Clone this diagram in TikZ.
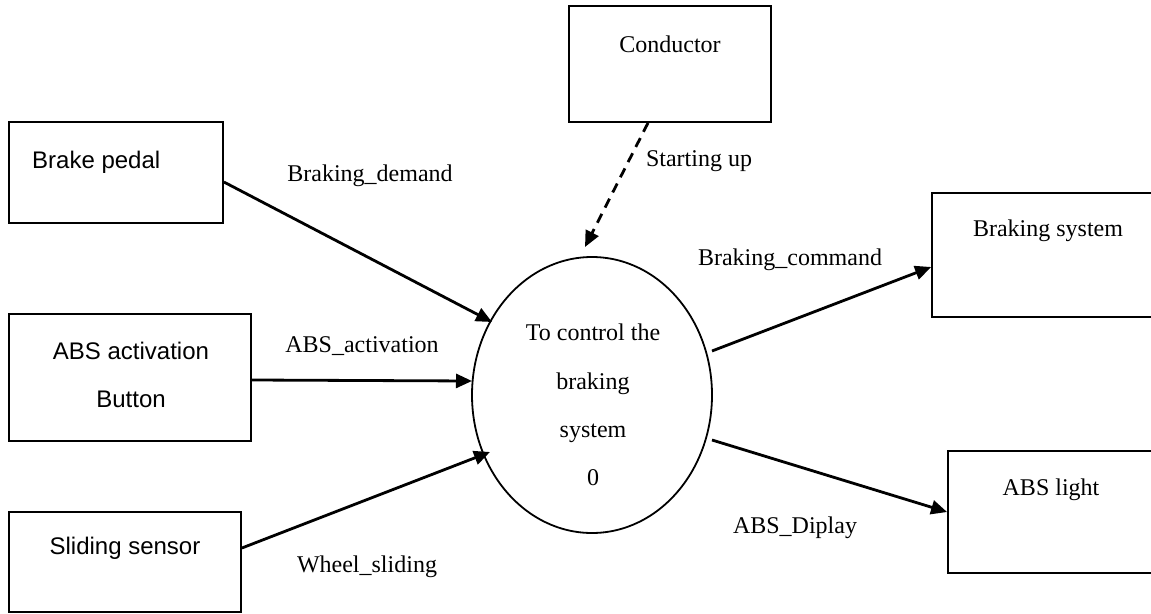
\documentclass[tikz,border=0pt]{standalone}
\usepackage{fontspec}
\setmainfont{Liberation Serif}
\newfontfamily\arialfont{Liberation Sans}
\usetikzlibrary{arrows.meta,shapes.geometric}
\begin{document}
\begin{tikzpicture}[x=1pt,y=-1pt,
  extbox/.style={draw,rectangle,line width=1.8pt,inner sep=0pt},
  procbubble/.style={draw,ellipse,line width=1.8pt,inner sep=0pt,
    minimum width=240pt,minimum height=276pt},
  flow/.style={line width=2.8pt,-{Triangle[length=16pt,width=14pt]}},
  ctrlflow/.style={flow,dash pattern=on 10pt off 7pt},
  serif/.style={font=\fontsize{24}{29}\selectfont,anchor=base,inner sep=0pt},
  sans/.style={font=\arialfont\fontsize{24}{29}\selectfont,anchor=base,inner sep=0pt}]

\useasboundingbox (0,0) rectangle (1151,613);
\clip (0,0) rectangle (1151,613);
\fill[white] (0,0) rectangle (1151,613);

% external entities
\node[extbox,minimum width=214pt,minimum height=101pt] (pedal) at (116,172.5) {};
\node[extbox,minimum width=242pt,minimum height=127pt] (absbtn) at (130,377.5) {};
\node[extbox,minimum width=232pt,minimum height=100pt] (sensor) at (125,562) {};
\node[extbox,minimum width=202pt,minimum height=116pt] (driver) at (670,64) {};
\node[extbox,minimum width=238pt,minimum height=124pt] (brakes) at (1051,255) {};
\node[extbox,minimum width=217pt,minimum height=122pt] (light) at (1056.5,512) {};

% the process
\node[procbubble] (proc) at (592,395) {};

% data flows
\draw[flow] ([yshift=-9.5pt]pedal.east) -- ([xshift=-100pt,yshift=73pt]proc.center);
\draw[flow] ([yshift=-2.5pt]absbtn.east) -- ([xshift=-120pt,yshift=14pt]proc.center);
\draw[flow] ([yshift=14pt]sensor.east) -- ([xshift=-102pt,yshift=-57pt]proc.center);
\draw[ctrlflow] ([xshift=-22pt]driver.south) -- ([xshift=-7pt,yshift=148pt]proc.center);
\draw[flow] ([xshift=120pt,yshift=44pt]proc.center) -- ([yshift=-12pt]brakes.west);
\draw[flow] ([xshift=120pt,yshift=-45pt]proc.center) -- (light.west);

% entity texts
\node[sans,anchor=base west] (tpedal) at (32,168) {Brake pedal};
\node[sans] (tabs1) at (131,359) {ABS activation};
\node[sans] (tabs2) at (131,407) {Button};
\node[sans] (tsensor) at (125,554) {Sliding sensor};
\node[serif] (tdriver) at (670,52) {Conductor};
\node[serif] (tbrakes) at (1048,236) {Braking system};
\node[serif] (tlight) at (1051,495) {ABS light};

% process texts
\node[serif] (tp1) at (593,340) {To control the};
\node[serif] (tp2) at (593,389) {braking};
\node[serif] (tp3) at (593,437) {system};
\node[serif] (tp4) at (593,485) {0};

% flow labels
\node[serif] (ldemand) at (370,181) {Braking\_demand};
\node[serif] (lactiv) at (362,352) {ABS\_activation};
\node[serif] (lslide) at (367,572) {Wheel\_sliding};
\node[serif] (lstart) at (699,166) {Starting up};
\node[serif] (lcmd) at (790,265) {Braking\_command};
\node[serif] (ldisp) at (795,533) {ABS\_Diplay};
\end{tikzpicture}
\end{document}
